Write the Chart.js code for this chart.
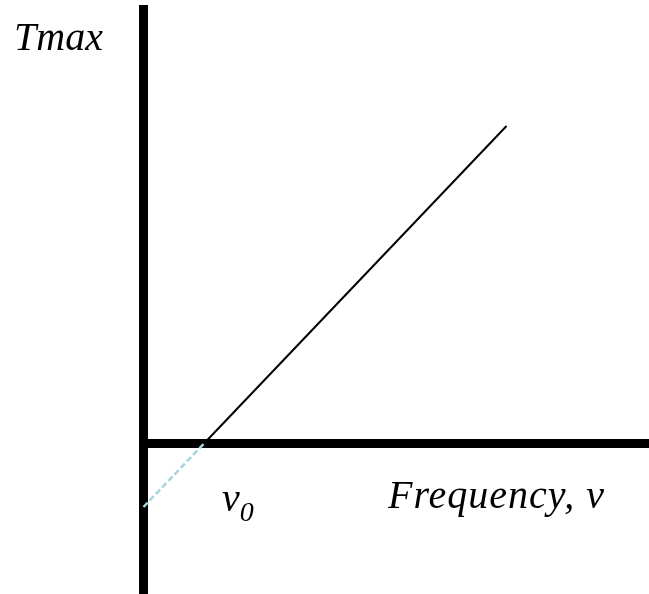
<!DOCTYPE html>
<html>
<head>
<meta charset="utf-8">
<style>
  html, body { margin: 0; padding: 0; background: #fff; }
  #wrap { width: 649px; height: 594px; }
</style>
<script src="https://cdn.jsdelivr.net/npm/chart.js@4/dist/chart.umd.min.js"></script>
</head>
<body>
<div id="wrap"><canvas id="c" width="649" height="594"></canvas></div>
<script>
// Photoelectric effect: maximum kinetic energy against frequency.
// Frequencies in units of the threshold frequency v0.
const thresholdFreq = 1;
const lineFreq = [1, 6];          // solid part, above threshold
const lineTmax = [0, 5];
const extrapFreq = [0, 1];        // dashed extrapolation back to the Tmax axis
const extrapTmax = [-1, 0];

// Axis extents
const xRange = [-2.372, 8.355];
const yRange = [-2.37, 6.984];
const yAxisTop = 6.906;

const toPts = (xs, ys) => xs.map((x, i) => ({ x: x, y: ys[i] }));

const labels = {
  yName: 'Tmax',
  xName: 'Frequency, v',
  thresholdMain: 'v',
  thresholdSub: '0'
};

const textPlugin = {
  id: 'axisText',
  afterDatasetsDraw(chart) {
    const ctx = chart.ctx;
    const xs = chart.scales.x;
    ctx.save();
    ctx.fillStyle = '#000';
    ctx.textBaseline = 'alphabetic';
    ctx.textAlign = 'left';
    ctx.font = 'italic 40px "Liberation Serif", "Times New Roman", serif';
    ctx.fillText(labels.yName, 14, 50);
    ctx.letterSpacing = '1px';
    ctx.fillText(labels.xName, 388, 508);
    ctx.letterSpacing = '0px';
    // threshold label under the intercept
    const vx = xs.getPixelForValue(thresholdFreq) + 18;
    ctx.fillText(labels.thresholdMain, vx, 511);
    const w = ctx.measureText(labels.thresholdMain).width;
    ctx.font = 'italic 28px "Liberation Serif", "Times New Roman", serif';
    ctx.fillText(labels.thresholdSub, vx + w, 521);
    ctx.restore();
  }
};

new Chart(document.getElementById('c'), {
  type: 'scatter',
  data: {
    datasets: [
      {
        data: toPts([0, 0], [yRange[0], yAxisTop]),
        showLine: true, borderColor: '#000', borderWidth: 9,
        borderCapStyle: 'butt', pointRadius: 0, clip: false, order: 3
      },
      {
        data: toPts([0, xRange[1]], [0, 0]),
        showLine: true, borderColor: '#000', borderWidth: 9,
        borderCapStyle: 'butt', pointRadius: 0, clip: false, order: 2
      },
      {
        data: toPts(extrapFreq, extrapTmax),
        showLine: true, borderColor: '#a6d3dc', borderWidth: 2.5,
        borderDash: [6, 3], pointRadius: 0, order: 1
      },
      {
        data: toPts(lineFreq, lineTmax),
        showLine: true, borderColor: '#000', borderWidth: 2,
        pointRadius: 0, order: 0
      }
    ]
  },
  options: {
    responsive: false,
    animation: false,
    layout: { padding: 0 },
    plugins: { legend: { display: false }, tooltip: { enabled: false } },
    scales: {
      x: { type: 'linear', display: false, min: xRange[0], max: xRange[1] },
      y: { type: 'linear', display: false, min: yRange[0], max: yRange[1] }
    }
  },
  plugins: [textPlugin]
});
</script>
</body>
</html>
